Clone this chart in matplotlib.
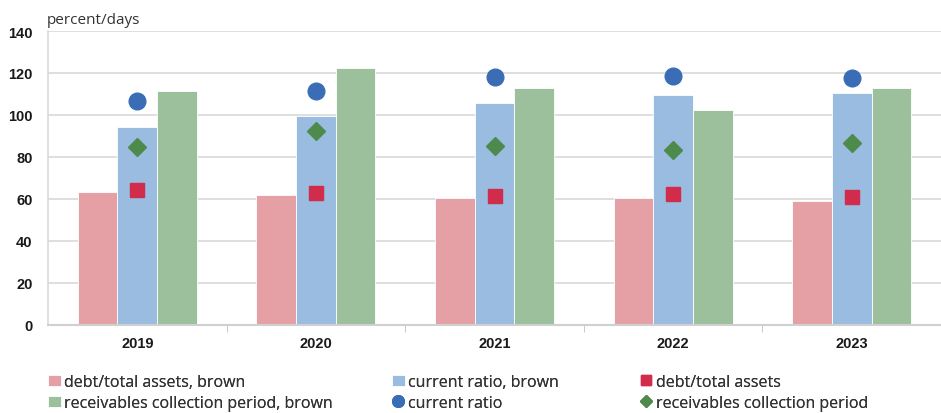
import numpy as np
import matplotlib.pyplot as plt

years = ['2019', '2020', '2021', '2022', '2023']

# bars (brown)
debt_brown = [63.3, 61.8, 60.3, 60.3, 59.2]
current_brown = [94.1, 99.4, 105.6, 109.4, 110.5]
recv_brown = [111.3, 122.4, 112.7, 102.2, 113.0]

# markers (all)
current_all = [106.8, 111.4, 118.3, 118.7, 117.6]
recv_all = [84.9, 92.2, 85.1, 83.5, 86.5]
debt_all = [64.3, 63.0, 61.5, 62.5, 61.1]

plt.rcParams['font.family'] = ['Open Sans', 'DejaVu Sans']

fig = plt.figure(figsize=(9.41, 4.14), dpi=100)
ax = fig.add_axes([48/941, 1-325.7/414, 1-48/941, (325.7-32)/414])

x = np.arange(len(years))
w = 0.222
b1 = ax.bar(x - w, debt_brown, w, color='#E4A0A5', edgecolor='white', linewidth=0.6,
            label='debt/total assets, brown', zorder=2)
b2 = ax.bar(x, current_brown, w, color='#99BCE0', edgecolor='white', linewidth=0.6,
            label='current ratio, brown', zorder=2)
b3 = ax.bar(x + w, recv_brown, w, color='#9CBF9C', edgecolor='white', linewidth=0.6,
            label='receivables collection period, brown', zorder=2)
m1, = ax.plot(x, current_all, 'o', color='#3A6DB5', markersize=12, linestyle='none',
              label='current ratio', zorder=3)
m2, = ax.plot(x, debt_all, 's', color='#D12C4C', markersize=10, linestyle='none',
              label='debt/total assets', zorder=3)
m3, = ax.plot(x, recv_all, 'D', color='#4E8A4C', markersize=9, linestyle='none',
              label='receivables collection period', zorder=3)

ax.set_ylim(0, 140)
ax.set_yticks(range(0, 141, 20))
ax.set_xlim(-0.5, 4.5)
ax.set_xticks(x)
ax.set_xticklabels(years)
ax.set_xticks(np.arange(0.5, 4.5, 1), minor=True)
ax.tick_params(axis='x', which='major', length=0, pad=8)
ax.tick_params(axis='x', which='minor', length=5, color='#BFBFBF')
ax.tick_params(axis='y', length=0, pad=11)
for lab in ax.get_xticklabels() + ax.get_yticklabels():
    lab.set_fontfamily(['Liberation Sans', 'DejaVu Sans'])
    lab.set_fontweight('bold')
    lab.set_fontsize(10.5)
    lab.set_color('#1A1A1A')

ax.grid(axis='y', color='#D9D9D9', linewidth=1.2, zorder=0)
ax.set_axisbelow(True)
for s in ['top', 'right']:
    ax.spines[s].set_visible(False)
ax.spines['left'].set_color('#D9D9D9')
ax.spines['left'].set_linewidth(1.2)
ax.spines['bottom'].set_color('#D0D0D0')
ax.spines['bottom'].set_linewidth(1.5)

fig.text(47/941, 1-20/414, 'percent/days', fontsize=11, color='#333333', va='center')

# legend: three columns placed separately
cols = [([b1, b3], 40), ([b2, m1], 384), ([m2, m3], 632)]
for hs, px in cols:
    leg = fig.legend(hs, [h.get_label() for h in hs], loc='upper left',
                     bbox_to_anchor=(px/941, 1-367/414), frameon=False, fontsize=11.5,
                     handlelength=0.8, handletextpad=0.2, labelspacing=0.3,
                     borderpad=0, markerscale=0.7, labelcolor='#333333')
    fig.add_artist(leg)

fig.savefig('out.png', dpi=100)
